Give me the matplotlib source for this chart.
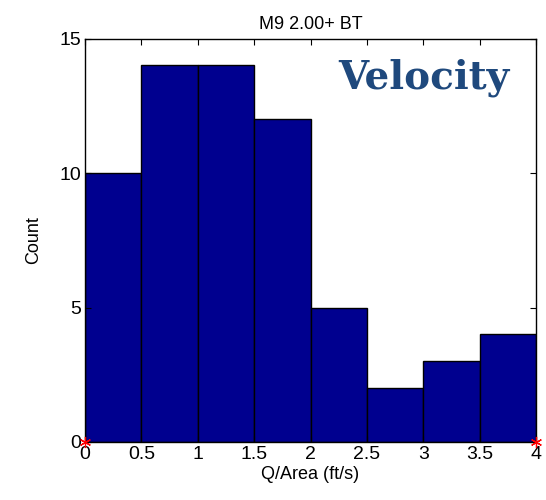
import matplotlib
matplotlib.use("Agg")
import matplotlib.pyplot as plt
import numpy as np

# histogram data
bin_edges = [0, 0.5, 1, 1.5, 2, 2.5, 3, 3.5, 4]
counts = [10, 14, 14, 12, 5, 2, 3, 4]
xticks = [0, 0.5, 1, 1.5, 2, 2.5, 3, 3.5, 4]
xtick_labels = ["0", "0.5", "1", "1.5", "2", "2.5", "3", "3.5", "4"]
yticks = [0, 5, 10, 15]
marker_x = [0, 4]
marker_y = [0, 0]

plt.rcParams["font.family"] = ["Liberation Sans", "DejaVu Sans"]

fig = plt.figure(figsize=(5.46, 5.0), dpi=100)
ax = fig.add_axes([0.1557, 0.116, 0.826, 0.807])

edges = np.array(bin_edges)
ax.bar(edges[:-1], counts, width=np.diff(edges), align="edge",
       color="#00008f", edgecolor="black", linewidth=1.0)
ax.plot(marker_x, marker_y, linestyle="none", marker=(6, 2, 0),
        color="red", markersize=8, markeredgewidth=0.9, clip_on=False,
        zorder=5)

ax.set_xlim(0, 4)
ax.set_ylim(0, 15)
ax.set_xticks(xticks)
ax.set_xticklabels(xtick_labels)
ax.set_yticks(yticks)
ax.tick_params(direction="in", top=True, right=True, length=4,
               labelsize=14, pad=3)
for s in ax.spines.values():
    s.set_linewidth(1.0)

ax.set_title("M9 2.00+ BT", fontsize=13, pad=7)
ax.set_xlabel("Q/Area (ft/s)", fontsize=13, labelpad=2)
ax.set_ylabel("Count", fontsize=13, labelpad=12)

ax.text(0.942, 0.902, "Velocity", transform=ax.transAxes, ha="right",
        va="center", fontsize=28, fontweight="bold",
        family=["DejaVu Serif"], color="#1f497d")

fig.savefig("out.png", dpi=100)
